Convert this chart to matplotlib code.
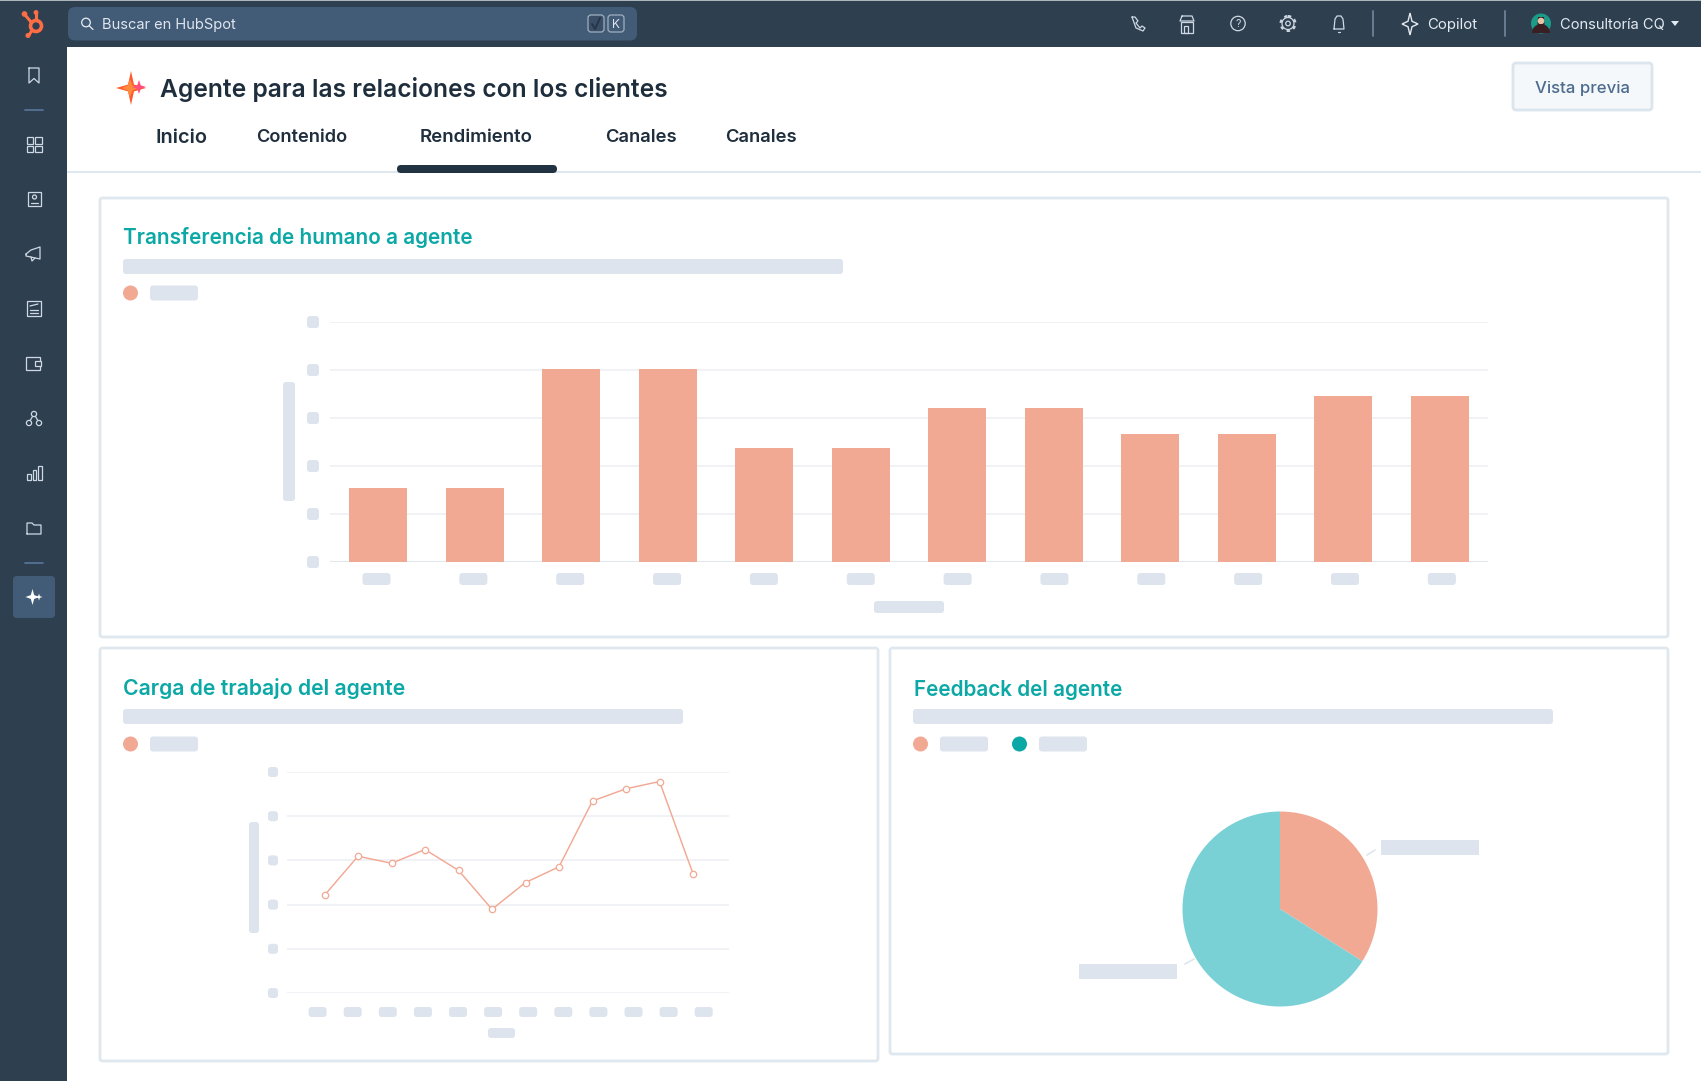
import matplotlib
matplotlib.use("Agg")
import matplotlib.pyplot as plt
from matplotlib.patches import FancyBboxPatch, Rectangle, Circle, Polygon, Wedge

W, H = 1701, 1081

# ---- data ----
bar_values = [31, 31, 80.5, 80.5, 47.5, 47.5, 64, 64, 53.5, 53.5, 69, 69]
line_values = [44.2, 61.9, 58.7, 64.9, 55.5, 37.9, 50, 57.1, 86.9, 92.4, 95.7, 54]
pie_values = [34, 66]
nav_tabs = ["Inicio", "Contenido", "Rendimiento", "Canales", "Canales"]
page_title = "Agente para las relaciones con los clientes"
panel_titles = ["Transferencia de humano a agente", "Carga de trabajo del agente", "Feedback del agente"]

NAVY = "#2e3f50"
SEARCH = "#425b76"
INK = "#213343"
SALMON = "#f2a994"
TEALL = "#79d1d6"
TEAL = "#0ba8a6"
SKEL = "#dde4ed"
BORDER = "#dfe7ef"
GRID = "#edf0f5"
ICON = "#cfd9e3"
FONT = "Inter"

fig = plt.figure(figsize=(W / 100, H / 100), dpi=100, facecolor="white")
ui = fig.add_axes([0, 0, 1, 1], zorder=0)
ui.set_xlim(0, W)
ui.set_ylim(H, 0)
ui.axis("off")


def box(x0, y0, x1, y1, fc=SKEL, ec="none", r=3, lw=0, z=2):
    ui.add_patch(FancyBboxPatch((x0 + r, y0 + r), x1 - x0 - 2 * r, y1 - y0 - 2 * r,
                                boxstyle=f"round,pad={r},rounding_size={r}",
                                fc=fc, ec=ec, lw=lw, zorder=z))


def text(x0, x1, y, s, color, weight=500):
    """Text fitted to the measured pixel width."""
    t = ui.text(x0, y, s, color=color, fontsize=12, family=FONT, fontweight=weight,
                ha="left", va="center_baseline", zorder=5)
    w = t.get_window_extent(fig.canvas.get_renderer()).width
    t.set_fontsize(12 * (x1 - x0) / w)
    return t


def line(xs, ys, c=ICON, lw=0.9, z=4):
    ui.plot(xs, ys, color=c, lw=lw, solid_capstyle="round", solid_joinstyle="round", zorder=z)


def ring(x, y, r, c=ICON, lw=0.9, fc="none", z=4, ls="-"):
    ui.add_patch(Circle((x, y), r, fc=fc, ec=c, lw=lw, zorder=z, ls=ls))


def sparkle(x, y, rx, ry, fc, k=0.24, ec="none", lw=0, z=5):
    ui.add_patch(Polygon([(x, y - ry), (x + rx * k, y - ry * k), (x + rx, y), (x + rx * k, y + ry * k),
                          (x, y + ry), (x - rx * k, y + ry * k), (x - rx, y), (x - rx * k, y - ry * k)],
                         closed=True, fc=fc, ec=ec, lw=lw, zorder=z))


def square(x, y, w, h, fc="none", ec=ICON, lw=0.9):
    ui.add_patch(Rectangle((x, y), w, h, fc=fc, ec=ec, lw=lw, zorder=4))


# ---- chrome ----
ui.add_patch(Rectangle((0, 0), W, 46.5, fc=NAVY, ec="none", zorder=1))
ui.add_patch(Rectangle((0, 0), 67, H, fc=NAVY, ec="none", zorder=1))
ui.add_patch(Rectangle((0, 0), W, 1, fc="#aeb6bd", ec="none", zorder=3))
box(68, 7, 637, 40.5, fc=SEARCH, r=7)
ring(86, 22.5, 4.3, c="#e8eef4")
line([89.2, 93], [25.8, 29.5], c="#e8eef4")
text(102, 236, 23.5, "Buscar en HubSpot", "#dfe6ee", 400)
box(588, 15, 604, 32, fc="#3a4f66", ec="#9fb0c1", r=3, lw=0.9, z=3)
box(608, 15, 624, 32, fc=SEARCH, ec="#9fb0c1", r=3, lw=0.9, z=3)
line([592, 595, 600], [24, 29, 18], c="#25364a", lw=1.4)
text(612, 620, 24, "K", "#dfe6ee", 400)

# logo
OR = "#ff6d45"
ring(36, 26, 5.5, c=OR, lw=2.6)
for a, b in [((36, 20), (36, 13)), ((31.5, 22.5), (25.5, 15.5)), ((32, 30.5), (29, 35))]:
    line([a[0], b[0]], [a[1], b[1]], c=OR, lw=2.2)
ring(36, 12.5, 1.8, c=OR, fc=OR)
ring(24.5, 14, 2.2, c=OR, fc=OR)
ring(28, 35.5, 1.9, c=OR, fc=OR)

# sidebar icons
cx = 34
line([cx - 5, cx - 5, cx, cx + 5, cx + 5, cx - 5], [68, 83, 78.5, 83, 68, 68])
line([cx - 9, cx + 9], [110, 110], c="#516f90", lw=1.4)
for dx, dy in [(-7.5, 137), (0.8, 137), (-7.5, 145.5), (0.8, 145.5)]:
    square(cx + dx, dy, 6.7, 6.7)
square(cx - 6, 192, 13, 14)
ring(cx + 0.5, 197, 2)
line([cx - 3, cx + 4], [203, 203])
line([cx - 8, cx - 3, cx + 6, cx + 6, cx - 8, cx - 8], [254, 250, 247, 259, 256, 254])
line([cx - 3, cx - 2, cx + 1], [257, 261, 258])
square(cx - 7, 301, 14, 15)
for yy in (310, 313):
    line([cx - 4, cx + 4], [yy, yy])
line([cx - 4, cx + 4], [306, 304])
square(cx - 8, 357, 14, 13)
square(cx + 1, 361, 6, 5, fc=NAVY)
for dx, dy in [(0, 414), (-5, 423), (5, 423)]:
    ring(cx + dx, dy, 2.6)
line([cx - 1.5, cx - 3.8], [416.5, 420.5])
line([cx + 1.5, cx + 3.8], [416.5, 420.5])
for dx, h in [(-7, 6), (-1.5, 10), (4, 14)]:
    square(cx + dx, 480 - h, 3.5, h)
line([cx - 7, cx - 7, cx - 2, cx, cx + 7, cx + 7, cx - 7], [534, 523, 523, 525, 525, 534, 534])
line([cx - 9, cx + 9], [563, 563], c="#516f90", lw=1.4)
box(13, 576, 55, 618, fc=SEARCH, r=4)
sparkle(cx - 1.5, 597, 7, 8, "white")
sparkle(cx + 5, 597, 3.5, 3.5, "white")

# top-bar icons
line([1132, 1135, 1138, 1136, 1140, 1142, 1145, 1143, 1136, 1132],
     [17, 17, 21, 23, 28, 26, 28, 31, 28, 17])
square(1181, 22, 12, 11)
line([1182, 1192, 1194, 1180, 1182], [16, 16, 21, 21, 16])
square(1184, 26, 3.5, 7)
ring(1238, 23.5, 7.2)
ui.text(1238, 24, "?", color=ICON, fontsize=7.5, ha="center", va="center", family=FONT, zorder=5)
ring(1288, 23.5, 2.3)
ring(1288, 23.5, 6)
ring(1288, 23.5, 7.4, lw=1.6, ls=(0, (1.5, 1.7)))
line([1334, 1335, 1337, 1341, 1343, 1344, 1334], [29, 19, 16, 16, 19, 29, 29])
line([1338, 1340], [31.5, 31.5])
line([1373, 1373], [11, 36], c="#6e8298", lw=1.3)
line([1505, 1505], [11, 36], c="#6e8298", lw=1.3)
sparkle(1410, 24, 8, 11, "none", k=0.25, ec="#e4eaf1", lw=1)
text(1427, 1477, 24, "Copilot", "#e4eaf1", 400)
ring(1541, 23.5, 10, c="none", fc="#1b9b8a", lw=0)
ring(1541, 21, 3.3, c="none", fc="#e7c3a8", lw=0, z=5)
ui.add_patch(Wedge((1541, 33), 9, 180, 360, fc="#3a1f22", ec="none", zorder=5))
ui.add_patch(Polygon([(1537, 31), (1545, 31), (1544, 17), (1538, 17)], fc="#3a1f22", ec="none", zorder=4.5))
text(1560, 1665, 24, "Consultoría CQ", "#e4eaf1", 400)
ui.add_patch(Polygon([(1671, 21), (1679, 21), (1675, 26)], fc="#e4eaf1", ec="none", zorder=5))

# page header
sparkle(131, 88, 15, 17, "#ff5a2c", k=0.2)
sparkle(130, 88, 8, 9, "#ff8a3c", k=0.3)
sparkle(139, 87, 7, 7, "#ff4f7b", k=0.25)
text(160, 669, 86.5, page_title, "#1f2e3d", 600)
for (x0, x1), s in zip([(155.5, 208), (256, 348), (420, 534), (605, 677), (725, 797)], nav_tabs):
    text(x0, x1, 136, s, "#1f2e3d", 600)
ui.add_patch(Rectangle((67, 171), W - 67, 2, fc=BORDER, ec="none", zorder=1))
box(397, 165, 557, 173, fc=INK, r=4, z=3)
box(1513, 63, 1652, 110, fc="#f5f8fa", ec="#dbe5ee", r=3, lw=2)
text(1535, 1630, 87, "Vista previa", "#4c6b8e", 500)

# panels
for x0, y0, x1, y1 in [(100, 198, 1668, 637), (100, 648, 878, 1061), (890, 648, 1668, 1054)]:
    box(x0, y0, x1, y1, fc="white", ec=BORDER, r=2.5, lw=2, z=1.5)

text(123, 474, 235.5, panel_titles[0], TEAL, 600)
text(123, 408, 686.5, panel_titles[1], TEAL, 600)
text(913.5, 1123, 687.5, panel_titles[2], TEAL, 600)
box(123, 259, 843, 274)
box(123, 709, 683, 724)
box(913, 709, 1553, 724)


def legend(cxs, rects, y, colors):
    for c, (a, b), col in zip(cxs, rects, colors):
        ui.add_patch(Circle((c, y), 7.5, fc=col, ec="none", zorder=3))
        box(a, y - 7.5, b, y + 7.5)


legend([130.5], [(150, 198)], 293, [SALMON])
legend([130.5], [(150, 198)], 744, [SALMON])
legend([920.5, 1019.5], [(940, 988), (1039, 1087)], 744, [SALMON, TEAL])


def sub_axes(x0, y0, x1, y1):
    ax = fig.add_axes([x0 / W, 1 - y1 / H, (x1 - x0) / W, (y1 - y0) / H], zorder=2)
    ax.patch.set_alpha(0)
    for s in ax.spines.values():
        s.set_visible(False)
    ax.tick_params(length=0, labelbottom=False, labelleft=False)
    return ax


# ---- bar chart ----
B = (330, 322, 1488, 562)
ax1 = sub_axes(*B)
ax1.set_xlim(-0.5, 11.5)
ax1.set_ylim(0, 100)
ax1.set_yticks(range(0, 101, 20))
ax1.set_xticks([])
ax1.grid(axis="y", color=GRID, lw=1.2)
ax1.set_axisbelow(True)
ax1.axhline(0, color="#e3e8ef", lw=1.5, zorder=1)
ax1.bar(range(len(bar_values)), bar_values, width=0.6, color=SALMON, zorder=3)
for v in range(0, 101, 20):
    y = B[3] - (B[3] - B[1]) * v / 100
    box(307, y - 6, 319, y + 6)
for i in range(len(bar_values)):
    c = 376.5 + i * 96.85
    box(c - 14, 573, c + 14, 585)
box(283, 382, 295, 501)
box(874, 601, 944, 613)

# ---- line chart ----
L = (287, 772, 729, 993)
ax2 = sub_axes(*L)
ax2.set_xlim((L[0] - 324.5) / 33.5, (L[2] - 324.5) / 33.5)
ax2.set_ylim(0, 100)
ax2.set_yticks(range(0, 101, 20))
ax2.set_xticks([])
ax2.grid(axis="y", color=GRID, lw=1.2)
ax2.set_axisbelow(True)
ax2.plot(range(len(line_values)), line_values, color=SALMON, lw=1.05, marker="o", ms=4.6,
         mfc="white", mec=SALMON, mew=0.9, zorder=3, clip_on=False)
for v in range(0, 101, 20):
    y = L[3] - (L[3] - L[1]) * v / 100
    box(268, y - 5, 278, y + 5)
for i in range(len(line_values)):
    c = 317.6 + i * 35.1
    box(c - 9, 1007, c + 9, 1017)
box(249, 822, 259, 933)
box(488, 1028, 515, 1038)

# ---- pie chart ----
P_R = 97.5
ax3 = sub_axes(1280 - P_R - 2, 909 - P_R - 2, 1280 + P_R + 2, 909 + P_R + 2)
ax3.pie(pie_values, colors=[SALMON, TEALL], startangle=90, counterclock=False, radius=P_R, center=(0, 0),
        frame=True, wedgeprops={"lw": 0})
ax3.set_xlim(-P_R - 2, P_R + 2)
ax3.set_ylim(-P_R - 2, P_R + 2)
ax3.set_xticks([])
ax3.set_yticks([])
for s in ax3.spines.values():
    s.set_visible(False)
box(1381, 840, 1479, 855, r=0.5)
box(1079, 964, 1177, 979, r=0.5)
line([1367, 1375], [855, 850], c="#dfe5ec", lw=1.2)
line([1185, 1194], [964, 959], c="#dfe5ec", lw=1.2)

fig.savefig("out.png", dpi=100, facecolor="white")
